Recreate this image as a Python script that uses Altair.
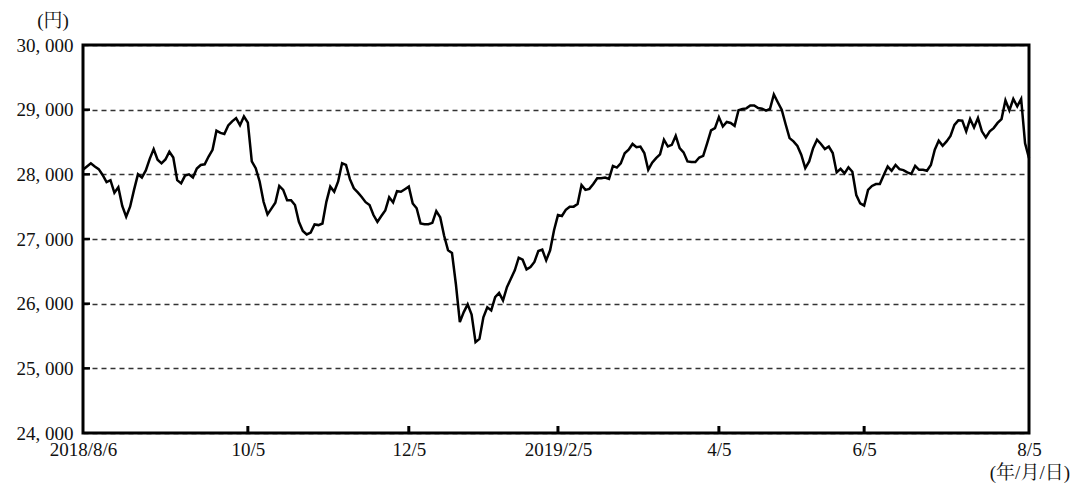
import altair as alt
import pandas as pd

# Closing values, one per trading day (2018/8/6 .. 2019/8/5)
close_values = [
    28070, 28120, 28170, 28120, 28080, 27990, 27880, 27910, 27715, 27800,
    27510, 27345, 27500, 27760, 28000, 27950, 28060, 28240, 28390, 28225,
    28170, 28230, 28350, 28260, 27910, 27860, 27980, 28000, 27950, 28090,
    28145, 28155, 28275, 28380, 28675, 28640, 28625, 28755, 28820, 28870,
    28760, 28895, 28800, 28200, 28095, 27890, 27575, 27380, 27470, 27560,
    27820, 27760, 27600, 27600, 27525, 27265, 27125, 27070, 27100, 27225,
    27215, 27240, 27575, 27810, 27730, 27890, 28170, 28145, 27925, 27785,
    27720, 27650, 27570, 27525, 27370, 27265, 27355, 27440, 27645, 27565,
    27740, 27730, 27770, 27810, 27550, 27475, 27240, 27230, 27230, 27250,
    27430, 27335, 27050, 26825, 26785, 26300, 25715, 25870, 25990, 25830,
    25405, 25455, 25790, 25945, 25895, 26100, 26165, 26050, 26255, 26385,
    26515, 26710, 26680, 26530, 26565, 26645, 26815, 26835, 26670, 26825,
    27135, 27370, 27355, 27450, 27500, 27500, 27540, 27835, 27760, 27775,
    27850, 27940, 27940, 27950, 27930, 28130, 28105, 28170, 28325, 28380,
    28470, 28420, 28430, 28330, 28070, 28180, 28250, 28310, 28535, 28430,
    28455, 28595, 28405, 28340, 28200, 28190, 28190, 28260, 28285, 28480,
    28680, 28715, 28885, 28740, 28810, 28795, 28750, 28990, 29010, 29020,
    29065, 29065, 29025, 29015, 28985, 29010, 29235, 29115, 29000, 28775,
    28560, 28510, 28440, 28300, 28095, 28200, 28405, 28535, 28470, 28390,
    28430, 28330, 28030, 28085, 28015, 28110, 28040, 27680, 27550, 27515,
    27760, 27820, 27850, 27850, 27990, 28120, 28055, 28145, 28080, 28065,
    28030, 28005, 28130, 28070, 28070, 28055, 28145, 28380, 28520, 28440,
    28510, 28595, 28765, 28835, 28830, 28665, 28855, 28725, 28870, 28665,
    28570, 28665, 28715, 28795, 28855, 29145, 28990, 29165, 29050, 29165,
    28480, 28250,
]
day_index = list(range(len(close_values)))

tick_index = [0, 42, 83, 121, 162, 199, 241]
tick_labels = ["2018/8/6", "10/5", "12/5", "2019/2/5", "4/5", "6/5", "8/5"]
y_ticks = [24000, 25000, 26000, 27000, 28000, 29000, 30000]

unit_label = "(円)"
date_unit_label = "(年/月/日)"

FONT = "Liberation Serif, Noto Serif CJK JP, Noto Sans CJK JP"
FS = 19

df = pd.DataFrame({"i": day_index, "v": close_values})
xt = pd.DataFrame({"i": tick_index[1:-1]})
yt = pd.DataFrame({"v": y_ticks[1:-1]})

label_expr = "".join(
    f"datum.value == {i} ? '{lab}' : " for i, lab in zip(tick_index, tick_labels)
) + "''"

x_scale = alt.Scale(domain=[tick_index[0], tick_index[-1]], nice=False, zero=False)
y_scale = alt.Scale(domain=[y_ticks[0], y_ticks[-1]], nice=False, zero=False)

line = alt.Chart(df).mark_line(color="black", strokeWidth=2.5).encode(
    x=alt.X(
        "i:Q",
        scale=x_scale,
        axis=alt.Axis(
            values=tick_index,
            labelExpr=label_expr,
            title=None,
            grid=False,
            ticks=False,
            tickSize=0,
            domain=False,
            labelPadding=7,
            labelFlush=False,
            labelFont=FONT,
            labelFontSize=FS,
            labelColor="#111",
            labelBaseline="top",
        ),
    ),
    y=alt.Y(
        "v:Q",
        scale=y_scale,
        axis=alt.Axis(
            values=y_ticks,
            labelExpr="replace(format(datum.value, ','), ',', ', ')",
            title=None,
            grid=True,
            gridDash=[5, 4],
            gridColor="#333",
            gridWidth=1.3,
            ticks=False,
            tickSize=0,
            domain=False,
            labelPadding=10,
            labelFlush=False,
            labelFont=FONT,
            labelFontSize=FS,
            labelColor="#111",
        ),
    ),
)

y_tick_marks = alt.Chart(yt).mark_rule(color="black", strokeWidth=2.5).encode(
    y=alt.Y("v:Q", scale=y_scale),
    x=alt.value(0),
    x2=alt.value(7),
)

x_tick_marks = alt.Chart(xt).mark_rule(color="black", strokeWidth=3).encode(
    x=alt.X("i:Q", scale=x_scale),
    y=alt.value(388),
    y2=alt.value(381),
)

frame = alt.Chart(pd.DataFrame({"t": [0]})).mark_rect(
    fill=None, fillOpacity=0, stroke="black", strokeWidth=3
).encode(
    x=alt.value(0), x2=alt.value(946), y=alt.value(0), y2=alt.value(388)
)

yen = alt.Chart(pd.DataFrame({"t": [unit_label]})).mark_text(
    font=FONT, fontSize=FS, color="#111", align="center", baseline="middle"
).encode(x=alt.value(-30), y=alt.value(-24), text="t:N")

ymd = alt.Chart(pd.DataFrame({"t": [date_unit_label]})).mark_text(
    font=FONT, fontSize=FS, color="#111", align="right", baseline="middle"
).encode(x=alt.value(987), y=alt.value(428), text="t:N")

chart = (
    alt.layer(line, y_tick_marks, x_tick_marks, frame, yen, ymd)
    .properties(
        width=946,
        height=388,
        autosize=alt.AutoSizeParams(type="none"),
        padding={"left": 75, "top": 37, "right": 43, "bottom": 50},
    )
    .configure_view(stroke=None)
    .configure(background="white")
)

chart.save("out.html", embed_options={"renderer": "svg", "actions": False})
